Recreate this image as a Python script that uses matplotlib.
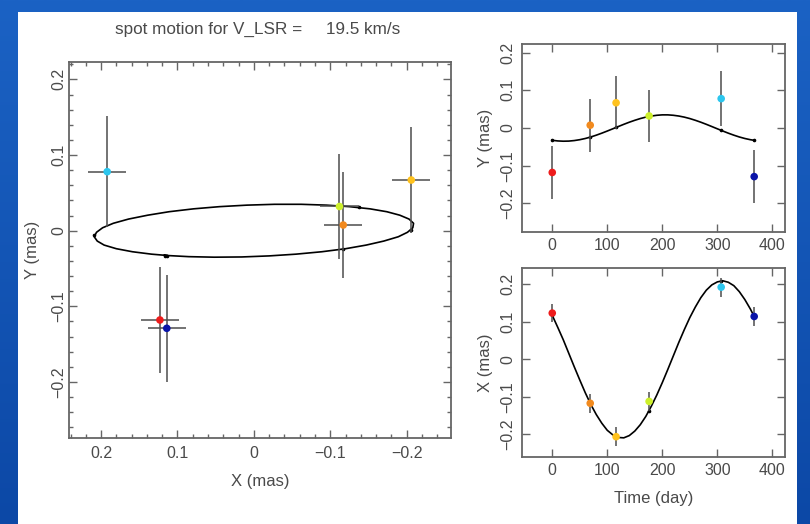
import numpy as np
import matplotlib.pyplot as plt
from matplotlib.patches import Rectangle
from matplotlib.ticker import MultipleLocator

# Spot positions (mas) at each epoch, with their errors
obs_day = [0, 69, 116, 176, 307, 367]
spot_x = [0.123, -0.117, -0.206, -0.112, 0.192, 0.114]
spot_y = [-0.118, 0.0075, 0.067, 0.032, 0.078, -0.129]
err_x = [0.025, 0.025, 0.025, 0.025, 0.025, 0.025]
err_y = [0.07, 0.07, 0.07, 0.07, 0.073, 0.071]
spot_colors = ['#ee1c1c', '#f28a1e', '#ffc21e', '#cdf02a', '#2cc6ee', '#0a14a8']

# Orbit model sampled in time
model_day = [0, 10, 20, 30, 40, 50, 60, 70, 80, 90, 100, 110, 120, 130, 140, 150,
             160, 170, 180, 190, 200, 210, 220, 230, 240, 250, 260, 270, 280, 290,
             300, 310, 320, 330, 340, 350, 360, 367]
model_x = [0.117, 0.085, 0.052, 0.016, -0.020, -0.055, -0.089, -0.120, -0.147, -0.170,
           -0.189, -0.201, -0.208, -0.209, -0.203, -0.191, -0.174, -0.152, -0.125, -0.095,
           -0.062, -0.027, 0.009, 0.045, 0.079, 0.111, 0.139, 0.164, 0.184, 0.198,
           0.206, 0.209, 0.205, 0.196, 0.180, 0.159, 0.134, 0.114]
model_y = [-0.0326, -0.0343, -0.0350, -0.0347, -0.0333, -0.0310, -0.0278, -0.0238,
           -0.0190, -0.0137, -0.0080, -0.0021, 0.0039, 0.0098, 0.0154, 0.0205, 0.0251,
           0.0289, 0.0318, 0.0338, 0.0349, 0.0349, 0.0338, 0.0318, 0.0289, 0.0251,
           0.0205, 0.0154, 0.0098, 0.0039, -0.0021, -0.0080, -0.0137, -0.0190, -0.0238,
           -0.0278, -0.0310, -0.0327]
# model positions at the observing epochs
model_x_obs = [0.117, -0.117, -0.206, -0.137, 0.209, 0.114]
model_y_obs = [-0.033, -0.024, 0.0015, 0.031, -0.006, -0.033]

plt.rcParams['font.family'] = ['Liberation Sans', 'DejaVu Sans']
text_col = '#4a4a4a'
frame_col = '#666666'
err_col = '#4d4d4d'
tick_fs = 11.5
label_fs = 12

fig = plt.figure(figsize=(8.1, 5.24), dpi=100)

# slide background and white panel
bg = fig.add_axes([0, 0, 1, 1], zorder=-10)
grad = np.linspace(0, 1, 256)[:, None]
bg.imshow(grad, aspect='auto', cmap=plt.matplotlib.colors.LinearSegmentedColormap.from_list(
    'slide', ['#1b62c4', '#0c48a6']), extent=[0, 1, 0, 1], origin='upper')
bg.add_patch(Rectangle((18 / 810, 0), (797 - 18) / 810, (524 - 12) / 524,
                       facecolor='white', edgecolor='none'))
bg.set_xlim(0, 1)
bg.set_ylim(0, 1)
bg.axis('off')


def style_axes(ax):
    for s in ax.spines.values():
        s.set_color(frame_col)
        s.set_linewidth(1.3)
    ax.tick_params(which='both', direction='in', top=True, right=True,
                   color=frame_col, labelcolor=text_col, labelsize=tick_fs, width=1)
    ax.tick_params(which='major', length=6)
    ax.tick_params(which='minor', length=3)
    ax.tick_params(axis='y', labelrotation=90)
    for lab in ax.get_yticklabels():
        lab.set_va('center')


# sky-plane motion
ax = fig.add_axes([69 / 810, 86 / 524, 382 / 810, 376 / 524])
ax.plot(model_x, model_y, color='black', lw=1.2, zorder=2)
ax.plot(model_x_obs, model_y_obs, 'o', color='black', ms=1.6, zorder=2)
ax.errorbar(spot_x, spot_y, xerr=err_x, yerr=err_y, fmt='none', ecolor=err_col,
            elinewidth=1.1, zorder=3)
ax.scatter(spot_x, spot_y, c=spot_colors, s=30, zorder=4, edgecolors='none')
ax.set_xlim(0.242, -0.258)
ax.set_ylim(-0.274, 0.223)
ax.xaxis.set_minor_locator(MultipleLocator(0.02))
ax.yaxis.set_minor_locator(MultipleLocator(0.02))
ax.set_xticks([0.2, 0.1, 0, -0.1, -0.2])
ax.set_xticklabels(['0.2', '0.1', '0', '\u22120.1', '\u22120.2'])
ax.set_yticks([-0.2, -0.1, 0, 0.1, 0.2])
ax.set_yticklabels(['\u22120.2', '\u22120.1', '0', '0.1', '0.2'])
style_axes(ax)
ax.tick_params(axis='x', pad=6)
ax.tick_params(axis='y', pad=2)
ax.set_xlabel('X (mas)', color=text_col, fontsize=label_fs, labelpad=9)
ax.set_ylabel('Y (mas)', color=text_col, fontsize=label_fs, labelpad=8)

fig.text(258 / 810, 1 - 29 / 524, 'spot motion for V_LSR =     19.5 km/s',
         ha='center', va='center', color=text_col, fontsize=12.3)

# Y against time
ay = fig.add_axes([522 / 810, 292 / 524, 263 / 810, 188 / 524])
ay.plot(model_day, model_y, color='black', lw=1.2, zorder=2)
ay.plot(obs_day, model_y_obs, 'o', color='black', ms=1.6, zorder=2)
ay.errorbar(obs_day, spot_y, yerr=err_y, fmt='none', ecolor=err_col,
            elinewidth=1.1, zorder=3)
ay.scatter(obs_day, spot_y, c=spot_colors, s=30, zorder=4, edgecolors='none')
ay.set_xlim(-55, 423)
ay.set_ylim(-0.276, 0.223)
ay.set_xticks([0, 100, 200, 300, 400])
ay.set_yticks([-0.2, -0.1, 0, 0.1, 0.2])
ay.set_yticklabels(['\u22120.2', '\u22120.1', '0', '0.1', '0.2'])
style_axes(ay)
ay.tick_params(axis='x', pad=4)
ay.tick_params(axis='y', pad=5)
ay.set_ylabel('Y (mas)', color=text_col, fontsize=label_fs, labelpad=5)

# X against time
ax2 = fig.add_axes([522 / 810, 67 / 524, 263 / 810, 189 / 524])
ax2.plot(model_day, model_x, color='black', lw=1.2, zorder=2)
ax2.plot(obs_day, model_x_obs, 'o', color='black', ms=1.6, zorder=2)
ax2.errorbar(obs_day, spot_x, yerr=err_x, fmt='none', ecolor=err_col,
             elinewidth=1.1, zorder=3)
ax2.scatter(obs_day, spot_x, c=spot_colors, s=30, zorder=4, edgecolors='none')
ax2.set_xlim(-55, 423)
ax2.set_ylim(-0.26, 0.243)
ax2.set_xticks([0, 100, 200, 300, 400])
ax2.set_yticks([-0.2, -0.1, 0, 0.1, 0.2])
ax2.set_yticklabels(['\u22120.2', '\u22120.1', '0', '0.1', '0.2'])
style_axes(ax2)
ax2.tick_params(axis='x', pad=4)
ax2.tick_params(axis='y', pad=5)
ax2.set_xlabel('Time (day)', color=text_col, fontsize=label_fs, labelpad=10)
ax2.set_ylabel('X (mas)', color=text_col, fontsize=label_fs, labelpad=5)

fig.savefig('out.png', dpi=100)
